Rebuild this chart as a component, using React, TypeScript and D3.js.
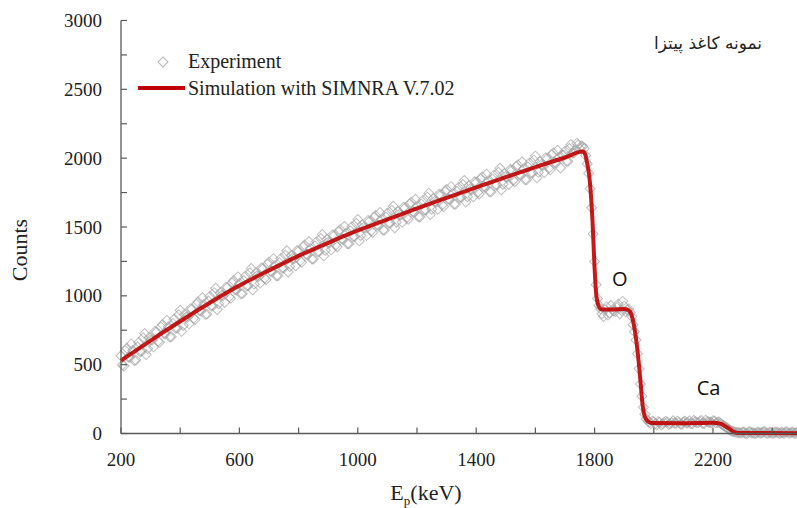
import React from 'react';
import * as d3 from 'd3';

const xTickValues = [200, 400, 600, 800, 1000, 1200, 1400, 1600, 1800, 2000, 2200, 2400];
const xLabelValues = [200, 600, 1000, 1400, 1800, 2200];
const yTickValues = [0, 250, 500, 750, 1000, 1250, 1500, 1750, 2000, 2250, 2500, 2750, 3000];
const yLabelValues = [0, 500, 1000, 1500, 2000, 2500, 3000];

// experiment channels, even set: 200, 210, ... 2500 keV
const expStartA = 200;
const expStep = 10;
const expCountsA = [
  565, 490, 619, 554, 603, 533, 662, 597, 726, 616,
  680, 629, 738, 662, 791, 725, 774, 703, 832, 766,
  895, 784, 847, 796, 904, 828, 956, 890, 938, 867,
  995, 927, 1055, 942, 1005, 952, 1060, 982, 1110, 1042,
  1090, 1016, 1142, 1073, 1199, 1085, 1146, 1092, 1198, 1119,
  1245, 1175, 1221, 1146, 1272, 1202, 1328, 1213, 1274, 1219,
  1325, 1244, 1369, 1298, 1343, 1267, 1392, 1321, 1446, 1330,
  1390, 1334, 1438, 1357, 1481, 1410, 1454, 1378, 1502, 1431,
  1555, 1438, 1496, 1439, 1542, 1460, 1583, 1511, 1554, 1477,
  1600, 1528, 1651, 1534, 1592, 1535, 1638, 1556, 1679, 1607,
  1650, 1573, 1695, 1623, 1746, 1629, 1686, 1629, 1732, 1649,
  1772, 1700, 1742, 1665, 1787, 1715, 1838, 1720, 1778, 1720,
  1823, 1740, 1863, 1790, 1832, 1755, 1877, 1805, 1927, 1810,
  1867, 1809, 1912, 1829, 1951, 1878, 1921, 1843, 1965, 1893,
  2015, 1897, 1954, 1896, 1998, 1915, 2037, 1964, 2006, 2023,
  2050, 1977, 2099, 2037, 2109, 2071, 2085, 2020, 1890, 1640,
  1250, 980, 905, 850, 920, 875, 900, 885, 940, 895,
  925, 900, 880, 790, 680, 470, 270, 140, 90, 72,
  85, 64, 80, 70, 88, 66, 78, 74, 90, 68,
  83, 76, 92, 71, 85, 79, 95, 73, 88, 82,
  93, 77, 84, 66, 52, 36, 22, 13, 8, 5,
  11, 2, 12, 6, 0, 9, 4, 11, 3, 8,
  1, 10, 5, 7, 2, 12, 4, 9, 6, 3,
  10,
];

// experiment channels, odd set: 205, 215, ... 2495 keV
const expStartB = 205;
const expCountsB = [
  498, 602, 556, 651, 530, 630, 594, 694, 573, 698,
  677, 741, 670, 774, 728, 822, 701, 800, 764, 863,
  742, 865, 844, 907, 836, 939, 893, 986, 865, 963,
  926, 1023, 901, 1023, 1001, 1063, 991, 1093, 1046, 1138,
  1015, 1111, 1072, 1168, 1044, 1165, 1141, 1202, 1128, 1229,
  1180, 1270, 1146, 1241, 1202, 1297, 1173, 1293, 1269, 1329,
  1254, 1354, 1303, 1393, 1267, 1362, 1321, 1416, 1290, 1410,
  1384, 1443, 1367, 1466, 1415, 1504, 1378, 1472, 1431, 1525,
  1399, 1517, 1490, 1548, 1471, 1569, 1517, 1605, 1478, 1571,
  1529, 1622, 1495, 1613, 1586, 1644, 1567, 1665, 1613, 1701,
  1574, 1666, 1624, 1717, 1590, 1707, 1680, 1738, 1660, 1758,
  1706, 1793, 1666, 1758, 1716, 1809, 1681, 1799, 1771, 1829,
  1751, 1849, 1796, 1883, 1756, 1848, 1806, 1898, 1771, 1888,
  1860, 1918, 1840, 1937, 1884, 1972, 1844, 1936, 1894, 1986,
  1858, 1975, 1947, 2004, 1926, 2023, 1970, 2057, 1929, 2021,
  1978, 2070, 2038, 2060, 2097, 2089,
  2070, 1960, 1780, 1450, 1080, 930, 870, 900, 860, 930,
  890, 915, 870, 960, 885, 905, 850, 740, 580, 360,
  190, 105, 80, 90,
  72, 86, 62, 79, 84, 70, 93, 75, 81, 67,
  89, 78, 72, 94, 80, 86, 74, 97, 83, 78,
  90, 81,
  74, 58, 44, 28, 16, 10,
  7, 3, 9, 0, 13, 5, 2, 8, 6, 14,
  1, 7, 4, 10, 0, 6, 11, 3, 8, 2,
  9, 5,
];

const simEnergy = [200, 300, 400, 500, 600, 700, 800, 900, 1000, 1100, 1200, 1300, 1400, 1500, 1600, 1700, 1760, 1768, 1775, 1782, 1793, 1800, 1806, 1815, 1825, 1860, 1900, 1915, 1925, 1935, 1945, 1955, 1962, 1970, 1980, 1995, 2100, 2200, 2225, 2240, 2255, 2270, 2285, 2500];
const simCounts = [530, 675, 815, 950, 1075, 1185, 1290, 1385, 1475, 1555, 1635, 1712, 1788, 1862, 1935, 2005, 2048, 2030, 1960, 1870, 1540, 1200, 1000, 920, 900, 900, 905, 895, 860, 760, 600, 380, 210, 120, 88, 76, 74, 78, 72, 55, 35, 12, 4, 2];

const legendLabels = ['Experiment', 'Simulation with SIMNRA V.7.02'];
const titleText = 'نمونه کاغذ پیتزا';
const peakLabels = [
  { text: 'O', energy: 1885, count: 1120 },
  { text: 'Ca', energy: 2185, count: 330 },
];

export default function App() {
  const W = 797;
  const H = 508;
  const x = d3.scaleLinear().domain([200, 2500]).range([121, 121 + 2300 * 0.296]);
  const y = d3.scaleLinear().domain([0, 3000]).range([433.5, 20.5]);
  const axisColor = '#595959';
  const serif = '"Liberation Serif", "Times New Roman", serif';

  const expData = [
    ...expCountsA.map((c, i) => ({ e: expStartA + i * expStep, c })),
    ...expCountsB.map((c, i) => ({ e: expStartB + i * expStep, c })),
  ];
  const simData = simEnergy.map((e, i) => ({ e, c: simCounts[i] }));
  const line = d3
    .line<{ e: number; c: number }>()
    .x((d) => x(d.e))
    .y((d) => y(d.c))
    .curve(d3.curveMonotoneX);
  const diamond = d3.symbol().type(d3.symbolSquare).size(50)() as string;

  return (
    <div style={{ position: 'absolute', left: 0, top: 0 }}>
      <svg width={W} height={H} style={{ display: 'block', background: '#fff' }}>
        <g>
          {expData.map((d, i) => (
            <path
              key={i}
              d={diamond}
              transform={`translate(${x(d.e)},${y(d.c)}) rotate(45)`}
              fill="none"
              stroke="#a3a3a3"
              strokeOpacity={0.7}
              strokeWidth={1}
            />
          ))}
        </g>
        <path d={line(simData) as string} fill="none" stroke="#c00000" strokeWidth={4} strokeOpacity={0.9} strokeLinejoin="round" />

        <g>
          <line x1={x(200)} x2={W} y1={y(0)} y2={y(0)} stroke={axisColor} strokeWidth={1.3} />
          {xTickValues.map((v) => (
            <line key={v} x1={x(v)} x2={x(v)} y1={y(0)} y2={y(0) - 6} stroke={axisColor} strokeWidth={1.2} />
          ))}
          {xLabelValues.map((v) => (
            <text key={v} x={x(v)} y={466} textAnchor="middle" fontFamily={serif} fontSize={19} fill="#222">
              {v}
            </text>
          ))}
          <line x1={x(200)} x2={x(200)} y1={y(0)} y2={y(3000)} stroke={axisColor} strokeWidth={1.3} />
          {yTickValues.map((v) => (
            <line key={v} x1={x(200)} x2={x(200) + 6} y1={y(v)} y2={y(v)} stroke={axisColor} strokeWidth={1.2} />
          ))}
          {yLabelValues.map((v) => (
            <text key={v} x={102} y={y(v)} dy="0.35em" textAnchor="end" fontFamily={serif} fontSize={19} fill="#222">
              {v}
            </text>
          ))}
        </g>

        <text x={426} y={500} textAnchor="middle" fontFamily={serif} fontSize={22} fill="#222">
          E<tspan fontSize={13} dy={5}>p</tspan>
          <tspan dy={-5}>(keV)</tspan>
        </text>
        <text transform={`translate(27,250) rotate(-90)`} textAnchor="middle" fontFamily={serif} fontSize={22} fill="#222">
          Counts
        </text>

        <path d={diamond} transform="translate(163,62) rotate(45)" fill="none" stroke="#b5b5b5" strokeWidth={1} />
        <text x={188} y={68} fontFamily={serif} fontSize={20} fill="#222">
          {legendLabels[0]}
        </text>
        <line x1={138} x2={185} y1={88} y2={88} stroke="#c00000" strokeWidth={4} />
        <text x={188} y={95} fontFamily={serif} fontSize={20} fill="#222">
          {legendLabels[1]}
        </text>

        <text x={708} y={49} textAnchor="middle" fontFamily='"DejaVu Sans", "Noto Sans", sans-serif' fontSize={17} fill="#222" direction="rtl">
          {titleText}
        </text>

        {peakLabels.map((p) => (
          <text
            key={p.text}
            x={x(p.energy)}
            y={y(p.count)}
            textAnchor="middle"
            dy="0.35em"
            fontFamily='"Open Sans", "Noto Sans", sans-serif'
            fontSize={20}
            fill="#111"
          >
            {p.text}
          </text>
        ))}
      </svg>
    </div>
  );
}
